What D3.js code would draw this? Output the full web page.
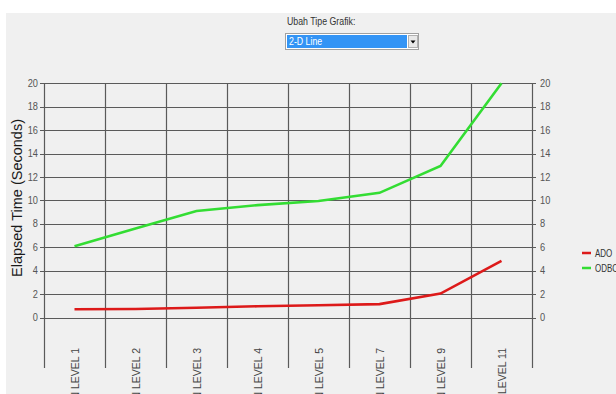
<!DOCTYPE html>
<html>
<head>
<meta charset="utf-8">
<script src="https://cdn.jsdelivr.net/npm/d3@7/dist/d3.min.js"></script>
<style>
  html, body { margin: 0; padding: 0; background: #ffffff; }
  svg { display: block; font-family: Arial, "Liberation Sans", sans-serif; }
</style>
</head>
<body>
<svg id="chart" width="616" height="394"></svg>
<script>
// Query levels tested
const categories = ["JOIN LEVEL 1", "JOIN LEVEL 2", "JOIN LEVEL 3", "JOIN LEVEL 4",
                    "JOIN LEVEL 5", "JOIN LEVEL 7", "JOIN LEVEL 9", "JOIN LEVEL 11"];
// Elapsed time in seconds per access method
const adoValues  = [0.72, 0.74, 0.84, 0.97, 1.05, 1.15, 2.05, 4.85];
const odbcValues = [6.1, 7.6, 9.1, 9.6, 9.95, 10.65, 12.95, 20];
const yTicks = [0, 2, 4, 6, 8, 10, 12, 14, 16, 18, 20];
const seriesNames = ["ADO", "ODBC"];
const seriesColors = ["#dd1a1a", "#33dd33"];

const svg = d3.select("#chart");

// panel background
svg.append("rect").attr("x", 6).attr("y", 13).attr("width", 610).attr("height", 381)
  .attr("fill", "#f0f0f0");

// chart type selector
svg.append("text").attr("transform", "translate(287,25) scale(0.88,1)")
  .attr("font-size", 10).attr("fill", "#333").text("Ubah Tipe Grafik:");
svg.append("rect").attr("x", 285.5).attr("y", 33.5).attr("width", 133).attr("height", 16)
  .attr("fill", "#fff").attr("stroke", "#a0a0a0");
svg.append("rect").attr("x", 287).attr("y", 35).attr("width", 120).attr("height", 13)
  .attr("fill", "#3394f5");
svg.append("text").attr("transform", "translate(289,45) scale(0.88,1)")
  .attr("font-size", 10).attr("fill", "#fff").text("2-D Line");
svg.append("rect").attr("x", 408.5).attr("y", 35.5).attr("width", 9).attr("height", 12)
  .attr("fill", "#e8e8e8").attr("stroke", "#b0b0b0");
svg.append("path").attr("d", "M410.5,40.5 L415.5,40.5 L413,43.5 Z").attr("fill", "#000");

// scales
const x = d3.scaleBand().domain(categories).range([44, 532]);
const y = d3.scaleLinear().domain([-4.3, 20]).range([368, 83.3]);

const grid = svg.append("g").attr("stroke", "#5a5a5a").attr("stroke-width", 1.2);

// horizontal gridlines with ticks on both sides
grid.selectAll("line.h").data(yTicks).join("line")
  .attr("x1", 40).attr("x2", 536)
  .attr("y1", d => Math.round(y(d)) + 0.5).attr("y2", d => Math.round(y(d)) + 0.5);

// vertical category dividers
const bounds = categories.map(c => x(c)).concat([x.range()[1]]);
grid.selectAll("line.v").data(bounds).join("line")
  .attr("x1", d => Math.round(d) + 0.5).attr("x2", d => Math.round(d) + 0.5)
  .attr("y1", y(20)).attr("y2", y(-4.3));

// left and right value labels
svg.append("g").selectAll("text").data(yTicks).join("text")
  .attr("transform", d => `translate(38,${y(d) + 3.5}) scale(0.88,1)`)
  .attr("text-anchor", "end")
  .attr("font-size", 10.5).attr("fill", "#555").text(d => d);
svg.append("g").selectAll("text").data(yTicks).join("text")
  .attr("transform", d => `translate(540,${y(d) + 3.5}) scale(0.88,1)`)
  .attr("text-anchor", "start")
  .attr("font-size", 10.5).attr("fill", "#555").text(d => d);

// rotated category labels
svg.append("g").selectAll("text").data(categories).join("text")
  .attr("transform", d => `translate(${x(d) + x.bandwidth() / 2 + 4},348) rotate(-90)`)
  .attr("text-anchor", "end").attr("font-size", 10.5).attr("fill", "#444").text(d => d);

// y axis title
svg.append("text")
  .attr("transform", "translate(22,198) rotate(-90)")
  .attr("text-anchor", "middle").attr("font-size", 14.5).attr("fill", "#1a1a1a")
  .text("Elapsed Time (Seconds)");

// series lines
const line = d3.line()
  .x((d, i) => x(categories[i]) + x.bandwidth() / 2)
  .y(d => y(d));
[adoValues, odbcValues].forEach((vals, k) => {
  svg.append("path").datum(vals)
    .attr("d", line).attr("fill", "none")
    .attr("stroke", seriesColors[k]).attr("stroke-width", 2.6);
});

// legend
const legend = svg.append("g").selectAll("g").data(seriesNames).join("g")
  .attr("transform", (d, i) => `translate(582,${253 + i * 15})`);
legend.append("line").attr("x1", 0).attr("x2", 9).attr("y1", 0).attr("y2", 0)
  .attr("stroke", (d, i) => seriesColors[i]).attr("stroke-width", 2.5);
legend.append("text").attr("transform", "translate(13,3.5) scale(0.8,1)")
  .attr("font-size", 10).attr("fill", "#333").text(d => d);
</script>
</body>
</html>
